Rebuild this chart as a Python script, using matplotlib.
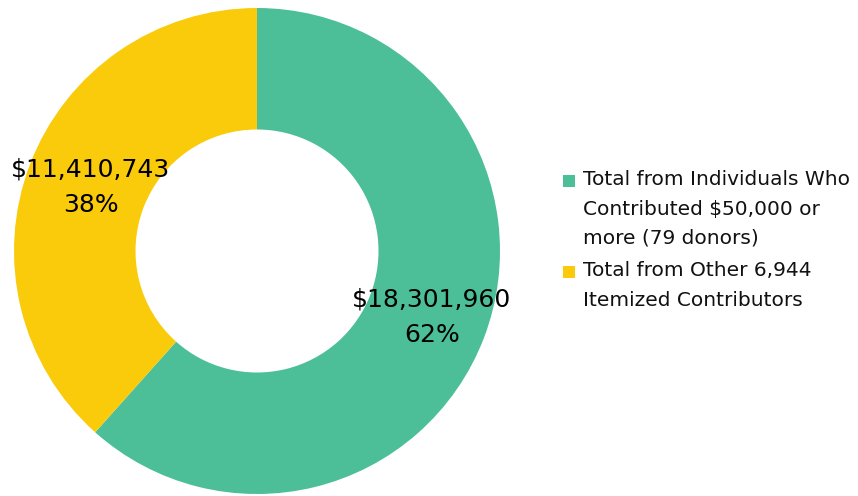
import matplotlib
matplotlib.use("Agg")
import matplotlib.pyplot as plt
from matplotlib.patches import Rectangle

categories = ["Total from Individuals Who\nContributed $50,000 or\nmore (79 donors)",
              "Total from Other 6,944\nItemized Contributors"]
values = [18301960, 11410743]
colors = ["#4CBF99", "#FACB0A"]

plt.rcParams['font.family'] = ['DejaVu Sans']

fig = plt.figure(figsize=(8.58, 4.96), dpi=100)
cx, cy, R = 257, 251, 243
W, H = 858, 496
ax = fig.add_axes([(cx - R) / W, (H - cy - R) / H, 2 * R / W, 2 * R / H])

total = sum(values)
def fmt(p):
    v = p * total / 100
    return "${:,.0f}\n{:.0f}%".format(v, p)

wedges, texts, autotexts = ax.pie(values, colors=colors, startangle=90, counterclock=False,
                                   radius=1.0, wedgeprops=dict(width=0.5, linewidth=0),
                                   autopct=fmt, pctdistance=0.77,
                                   textprops=dict(fontsize=18, color="black", linespacing=1.6))
# the smaller slice's label sits slightly closer to the hole
x, y = autotexts[1].get_position()
autotexts[1].set_position((x * 0.95, y * 0.95))
ax.set_xlim(-1, 1)
ax.set_ylim(-1, 1)
ax.set_aspect("equal")

# legend, each marker aligned with the first line of its entry
tops = [170, 261]
for lab, col, top in zip(categories, colors, tops):
    fig.text(583 / W, 1 - top / H, lab, fontsize=14.5, va="top", ha="left",
             linespacing=1.7, color="#111111")
    fig.patches.append(Rectangle((563 / W, 1 - (top + 17) / H), 12 / W, 12 / H,
                                 transform=fig.transFigure, facecolor=col,
                                 edgecolor="none", figure=fig))
fig.savefig("out.png", dpi=100)
